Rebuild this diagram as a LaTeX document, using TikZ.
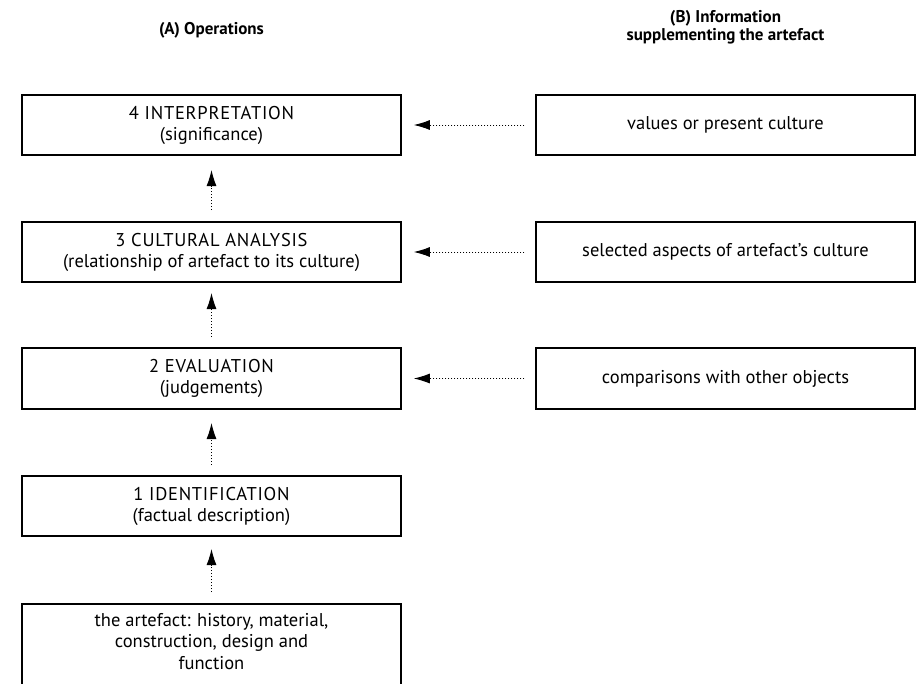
\documentclass[tikz,border=0pt]{standalone}
\usepackage{fontspec}
\setmainfont{PT Sans}
\usetikzlibrary{arrows.meta}
\newcommand{\capsline}[1]{{\addfontfeature{LetterSpace=4}#1}}
\begin{document}
\begin{tikzpicture}[x=1pt,y=-1pt,
  txt/.style={font=\fontsize{18.5}{21}\selectfont,align=center,inner sep=0pt},
  box/.style={txt,draw=black,line width=1.5pt},
  opbox/.style={box,minimum width=379pt,minimum height=60pt},
  infobox/.style={box,minimum width=379pt,minimum height=60pt},
  conn/.style={line width=1pt,dotted,-{Latex[length=16pt,width=10pt]}},
  head/.style={font=\bfseries\fontsize{17}{18}\selectfont,align=center}]
\useasboundingbox (0,0) rectangle (920,683);
\fill[white] (0,0) rectangle (920,683);
\node[head] (hA) at (211.5,30) {(A) Operations};
\node[head] (hB) at (725.5,27.5) {(B) Information\\supplementing the artefact};
\node[opbox] (o4) at (211.5,125) {\capsline{4 INTERPRETATION}\\(significance)};
\node[opbox] (o3) at (211.5,252) {\capsline{3 CULTURAL ANALYSIS}\\(relationship of artefact to its culture)};
\node[opbox,minimum height=61pt] (o2) at (211.5,378.5) {\capsline{2 EVALUATION}\\(judgements)};
\node[opbox] (o1) at (211.5,506) {\capsline{1 IDENTIFICATION}\\(factual description)};
\node[box,minimum width=379pt,minimum height=100pt,anchor=north] (art) at (211.5,603) {};
\node[txt,anchor=north,font=\fontsize{18.5}{21.5}\selectfont] (arttext) at (211.5,613) {the artefact: history, material,\\construction, design and\\function};
\node[infobox] (b4) at (725.5,125) {values or present culture};
\node[infobox] (b3) at (725.5,252) {selected aspects of artefact's culture};
\node[infobox,minimum height=61pt] (b2) at (725.5,378.5) {comparisons with other objects};
\coordinate (a1s) at (211.5,592); \coordinate (a1e) at (211.5,549);
\coordinate (a2s) at (211.5,465); \coordinate (a2e) at (211.5,423);
\coordinate (a3s) at (211.5,337); \coordinate (a3e) at (211.5,293);
\coordinate (a4s) at (211.5,210); \coordinate (a4e) at (211.5,170);
\draw[conn] (a1s) -- (a1e);
\draw[conn] (a2s) -- (a2e);
\draw[conn] (a3s) -- (a3e);
\draw[conn] (a4s) -- (a4e);
\draw[conn] ([xshift=-11pt]b4.west) -- ([xshift=12pt]o4.east);
\draw[conn] ([xshift=-11pt]b3.west) -- ([xshift=12pt]o3.east);
\draw[conn] ([xshift=-11pt]b2.west) -- ([xshift=12pt]o2.east);
\end{tikzpicture}
\end{document}
